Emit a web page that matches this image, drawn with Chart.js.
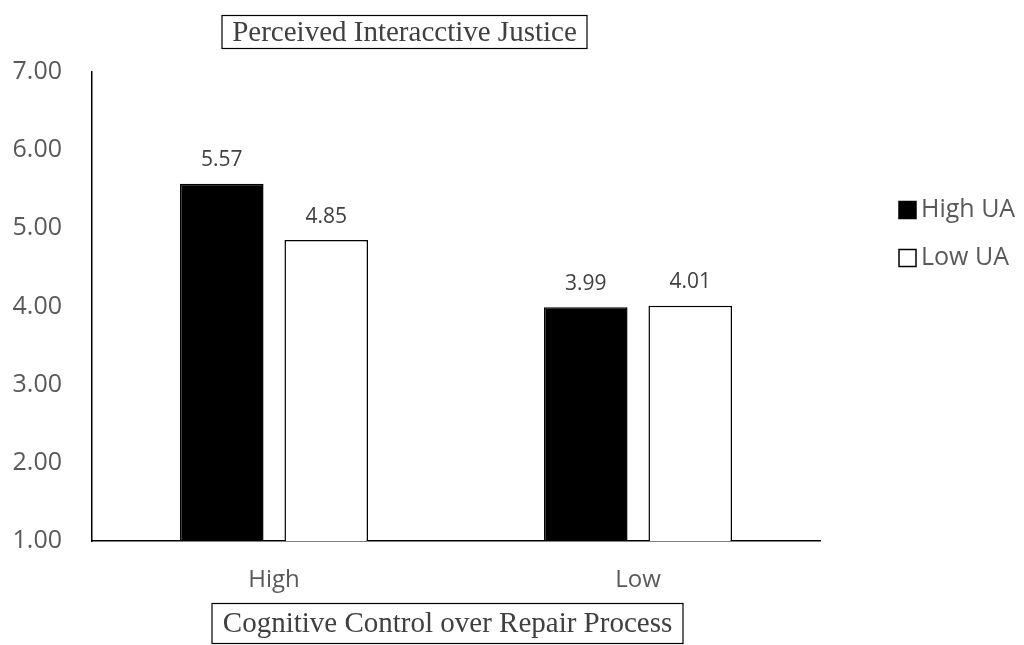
<!DOCTYPE html>
<html>
<head>
<meta charset="utf-8">
<script src="https://cdn.jsdelivr.net/npm/chart.js@4/dist/chart.umd.min.js"></script>
<style>
	html, body { margin: 0; padding: 0; background: #fff; }
	#wrap { width: 1024px; height: 645px; }
</style>
</head>
<body>
<div id="wrap"><canvas id="barChart"></canvas></div>
<script>
// chart data
const categories = ['High', 'Low'];
const seriesNames = ['High UA', 'Low UA'];
const highUA = [5.57, 3.99];
const lowUA = [4.85, 4.01];
const chartTitle = 'Perceived Interacctive Justice';
const xTitle = 'Cognitive Control over Repair Process';

const sansFont = '"Open Sans", "Liberation Sans", sans-serif';
const serifFont = '"Liberation Serif", "DejaVu Serif", serif';

// draws the value above every bar
const barValues = {
	id: 'barValues',
	afterDatasetsDraw(chart) {
		const ctx = chart.ctx;
		ctx.save();
		ctx.font = '21px ' + sansFont;
		ctx.fillStyle = '#404040';
		ctx.textAlign = 'center';
		ctx.textBaseline = 'bottom';
		chart.data.datasets.forEach((ds, i) => {
			chart.getDatasetMeta(i).data.forEach((bar, j) => {
				ctx.fillText(ds.data[j].toFixed(2), bar.x, bar.y - 13);
			});
		});
		ctx.restore();
	}
};

// boxed titles and the legend on the right
const boxesAndLegend = {
	id: 'boxesAndLegend',
	afterDraw(chart) {
		const ctx = chart.ctx;
		ctx.save();

		function boxedText(text, cx, top, w, h) {
			ctx.font = '29px ' + serifFont;
			ctx.fillStyle = '#404040';
			ctx.textAlign = 'center';
			ctx.textBaseline = 'middle';
			ctx.fillText(text, cx, top + h / 2 + 1);
			ctx.strokeStyle = '#000';
			ctx.lineWidth = 1.2;
			ctx.strokeRect(cx - w / 2, top, w, h);
		}
		boxedText(chartTitle, 404.5, 15.5, 365, 33);
		boxedText(xTitle, 447.5, 603.5, 471, 40);

		// legend
		ctx.font = '25px ' + sansFont;
		ctx.textAlign = 'left';
		ctx.textBaseline = 'middle';
		chart.data.datasets.forEach((ds, i) => {
			const y = 210 + i * 48;
			ctx.fillStyle = ds.backgroundColor;
			ctx.fillRect(899, y - 8.5, 17, 17);
			ctx.strokeStyle = '#000';
			ctx.lineWidth = 1.5;
			ctx.strokeRect(899, y - 8.5, 17, 17);
			ctx.fillStyle = '#595959';
			ctx.fillText(ds.label, 921, y);
		});
		ctx.restore();
	}
};

new Chart(document.getElementById('barChart'), {
	type: 'bar',
	data: {
		labels: categories,
		datasets: [
			{
				label: seriesNames[0],
				data: highUA,
				backgroundColor: '#000000',
				borderColor: '#000000',
				borderWidth: 1.5
			},
			{
				label: seriesNames[1],
				data: lowUA,
				backgroundColor: '#ffffff',
				borderColor: '#000000',
				borderWidth: 1.5
			}
		]
	},
	options: {
		responsive: true,
		maintainAspectRatio: false,
		animation: false,
		layout: {
			padding: { top: 72, right: 204, bottom: 0, left: 0 }
		},
		datasets: {
			bar: { categoryPercentage: 0.574, barPercentage: 0.8 }
		},
		plugins: {
			legend: { display: false },
			title: { display: false },
			tooltip: { enabled: false }
		},
		scales: {
			x: {
				grid: { display: false, drawTicks: false },
				border: { color: '#000', width: 1.5 },
				ticks: {
					color: '#595959',
					font: { family: sansFont, size: 24 },
					padding: 25
				},
				afterFit(scale) { scale.height = 104; }
			},
			y: {
				min: 1,
				max: 7,
				grid: { display: false, drawTicks: false },
				border: { color: '#000', width: 1.5 },
				ticks: {
					stepSize: 1,
					color: '#595959',
					font: { family: sansFont, size: 25 },
					padding: 30,
					callback: (v) => v.toFixed(2)
				},
				afterFit(scale) { scale.width = 92; }
			}
		}
	},
	plugins: [barValues, boxesAndLegend]
});
</script>
</body>
</html>
